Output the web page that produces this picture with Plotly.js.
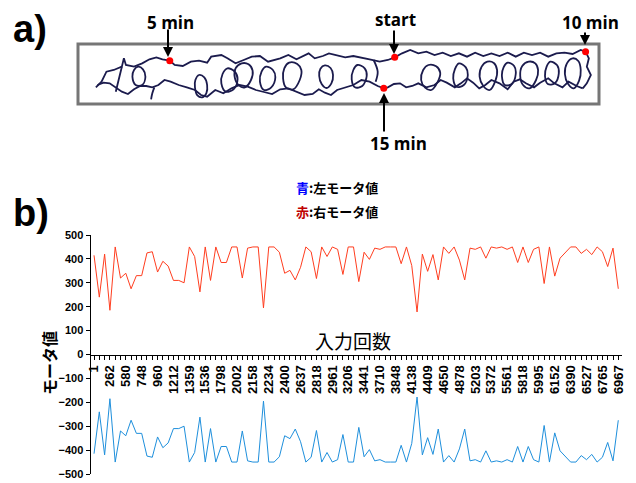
<!DOCTYPE html>
<html><head><meta charset="utf-8">
<script src="https://cdn.plot.ly/plotly-3.0.1.min.js"></script>
<style>html,body{margin:0;padding:0;background:#fff}</style>
</head><body><div id="chart" style="width:636px;height:483px"></div>
<script>
// ---- chart b) data ----
const xLabels = ['1','262','580','748','960','1212','1359','1536','1798','2002','2158','2234','2400','2637','2818','2961','3206','3441','3710','3848','4138','4409','4650','4878','5203','5372','5561','5818','5995','6152','6390','6527','6765','6967'];
const rightMotor = [415,240,420,185,450,320,340,275,330,330,
 425,430,345,390,370,310,310,300,450,410,
 262,450,310,450,385,385,450,450,320,445,
 450,450,195,450,450,428,340,352,312,365,
 450,430,318,450,410,450,440,335,450,450,
 305,428,398,445,440,450,450,450,380,450,
 372,178,420,348,418,312,450,423,450,395,
 312,445,440,450,403,450,445,450,440,450,
 385,450,385,440,450,297,450,328,403,428,
 450,450,423,440,418,450,430,368,445,275];
const leftMotor = [-415,-240,-420,-185,-450,-320,-340,-275,-330,-330,
 -425,-430,-345,-390,-370,-310,-310,-300,-450,-410,
 -262,-450,-310,-450,-385,-385,-450,-450,-320,-445,
 -450,-450,-195,-450,-450,-428,-340,-352,-312,-365,
 -450,-430,-318,-450,-410,-450,-440,-335,-450,-450,
 -305,-428,-398,-445,-440,-450,-450,-450,-380,-450,
 -372,-178,-420,-348,-418,-312,-450,-423,-450,-395,
 -312,-445,-440,-450,-403,-450,-445,-450,-440,-450,
 -385,-450,-385,-440,-450,-297,-450,-328,-403,-428,
 -450,-450,-423,-440,-418,-450,-430,-368,-445,-275];
const legendLines = ['<span style="color:#0000ff">青</span>:左モータ値','<span style="color:#c00000">赤</span>:右モータ値'];
const xTitle = '入力回数';
const yTitle = 'モータ値';

// ---- picture a) data (traced in picture units) ----
const upperX = [236,250,262,280,300,305,310,330,350,368,385,400,418,430,450,470,490,510,520,545,560,580,600,620,640,660,690,710,730,745,760,775,795,810,830,850,870,890,910,935,955,972,990,1010,1030,1050,1070,1090,1110,1130,1150,1170,1190,1210,1230,1250,1270,1290,1310,1330,1350,1370,1390,1410,1430,1442,1450,1445,1455,1445,1435];
const upperY = [262,245,215,210,200,175,195,200,190,178,172,178,182,195,198,185,182,188,170,165,175,190,180,170,168,185,175,165,178,170,160,175,168,160,165,172,168,172,178,185,180,172,160,150,160,155,165,158,168,160,170,158,168,160,168,158,170,158,165,158,170,160,158,162,150,155,175,200,225,250,265];
const lowerX = [1435,1420,1400,1385,1365,1350,1330,1315,1295,1280,1265,1250,1230,1210,1195,1180,1165,1150,1135,1120,1100,1085,1070,1050,1030,1015,1000,985,970,955,945,930,910,890,870,850,830,815,800,785,770,750,730,710,690,670,650,630,610,590,570,550,530,510,495,480,460,440,420,405,390,375,360,345,330,315,300,285,270,255,240];
const lowerY = [265,258,245,262,250,235,248,262,250,238,245,268,250,240,255,265,248,235,250,262,248,240,255,262,250,258,262,250,252,262,265,258,245,240,255,262,270,285,278,268,282,285,275,265,268,282,276,270,260,255,265,280,270,290,285,270,262,255,245,240,255,262,258,258,268,282,275,262,250,248,255];
const loopsX = [490,503,510,508,498,486,480,481,490,null,595,612,622,618,603,588,578,580,595,null,712,732,742,738,722,704,697,700,712,null,800,814,820,816,804,792,786,789,800,null,1055,1074,1084,1078,1062,1046,1037,1042,1055,null,1200,1216,1224,1220,1206,1190,1181,1186,1200,null,1302,1318,1325,1320,1304,1288,1281,1286,1302,null,1410,1424,1430,1426,1413,1399,1391,1396,1410,null,560,578,585,575,556,545,548,560,null,655,672,678,668,650,640,644,655,null,880,898,903,892,874,866,870,880,null,1130,1147,1152,1142,1124,1116,1120,1130,null,1250,1266,1270,1260,1243,1236,1240,1250,null,1355,1372,1376,1366,1349,1342,1346,1355,null,300,292,285,null,380,375,372,null,920,930,925,null,340,352,358,350,334,326,330,340];
const loopsY = [225,232,255,280,292,286,262,240,225,null,190,193,212,240,262,256,232,205,190,null,188,192,210,240,268,262,235,205,188,null,196,204,225,250,264,252,228,206,196,null,195,199,218,245,270,262,240,210,195,null,185,189,210,242,270,258,230,200,185,null,185,190,210,240,265,255,228,198,185,null,175,183,210,242,265,252,222,190,175,null,205,215,238,268,275,250,222,205,null,200,210,232,262,270,245,215,200,null,195,205,228,258,262,238,210,195,null,190,202,225,255,260,235,208,190,null,188,198,222,252,255,230,202,188,null,185,196,220,250,252,228,200,185,null,200,240,275,null,262,280,298,null,180,215,245,null,200,208,230,255,255,230,210,200];
const eventX = [418,972,1442,945];
const eventY = [182,172,155,265];
const eventLabels = ['5 min','start','10 min','15 min'];

const W=636,H=483;
const px = x=>x/W, py = y=>1-y/H;
const yDom=[py(474), py(235)];
const tickvals = xLabels.map((_,i)=>i*3);
const idx = rightMotor.map((_,i)=>i);
const navy = '#1b1b4d';

const traces = [
 {x:idx, y:rightMotor, type:'scatter', mode:'lines', line:{color:'#ff3d1f', width:1}, xaxis:'x', yaxis:'y', hoverinfo:'skip'},
 {x:idx, y:leftMotor, type:'scatter', mode:'lines', line:{color:'#1e8fdc', width:1}, xaxis:'x', yaxis:'y', hoverinfo:'skip'},
 {x:upperX, y:upperY, type:'scatter', mode:'lines', line:{color:navy, width:1.8}, xaxis:'x2', yaxis:'y2'},
 {x:lowerX, y:lowerY, type:'scatter', mode:'lines', line:{color:navy, width:1.8}, xaxis:'x2', yaxis:'y2'},
 {x:loopsX, y:loopsY, type:'scatter', mode:'lines', connectgaps:false, line:{color:navy, width:1.8, shape:'spline', smoothing:1}, xaxis:'x2', yaxis:'y2'},
 {x:eventX, y:eventY, type:'scatter', mode:'markers', marker:{color:'#ff0000', size:7}, xaxis:'x2', yaxis:'y2'}
];

const bold = (size, fam)=>({family: fam||'Liberation Sans, Arial, sans-serif', size:size, color:'#000', weight:'bold'});
const evText = [[170,22],[395,19],[590,22],[398,143]];
const arrows = [[168,57,168,28],[394,54,394,29],[585,45,585,31],[384,93,384,133]];
const A = (x,y,text,font,extra)=>Object.assign({xref:'paper',yref:'paper',x:px(x),y:py(y),xanchor:'center',yanchor:'middle',text:text,showarrow:false,font:font},extra||{});
const annotations = [
 A(30,29,'a)',bold(38)),
 A(31,213,'b)',bold(38)),
 A(294,188,legendLines[0],bold(13,'Noto Sans CJK JP'),{xanchor:'left'}),
 A(294,211,legendLines[1],bold(13,'Noto Sans CJK JP'),{xanchor:'left'}),
 A(353,340,xTitle,{family:'Noto Sans CJK JP',size:19,color:'#000'}),
 A(49,363,yTitle,bold(16,'Noto Sans CJK JP'),{textangle:-90})
];
eventLabels.forEach((t,i)=>{
 annotations.push(A(evText[i][0],evText[i][1],t,bold(17,'Open Sans, sans-serif')));
 const a=arrows[i];
 annotations.push({xref:'paper',yref:'paper',x:px(a[0]),y:py(a[1]),ax:a[2]-a[0],ay:a[3]-a[1],text:'',showarrow:true,arrowhead:2,arrowsize:1,arrowwidth:2,arrowcolor:'#000'});
});

const layout = {
 width:W, height:H, margin:{l:0,r:0,t:0,b:0},
 paper_bgcolor:'#ffffff', plot_bgcolor:'rgba(0,0,0,0)', showlegend:false,
 xaxis:{domain:[px(91),px(622)], range:[-0.57,99.7], anchor:'free', position:(yDom[0]+yDom[1])/2,
  tickmode:'array', tickvals:tickvals, ticktext:xLabels, tickangle:-90,
  ticks:'outside', ticklen:4, tickwidth:1, tickcolor:'#000',
  minor:{tick0:0, dtick:1, ticks:'outside', ticklen:4, tickwidth:1, tickcolor:'#000', showgrid:false},
  showline:true, linecolor:'#000', linewidth:1.5, showgrid:false, zeroline:false, tickfont:bold(13)},
 yaxis:{domain:yDom, range:[-500,500], tick0:0, dtick:100, ticks:'outside', ticklen:4, tickcolor:'#000',
  showline:true, linecolor:'#000', linewidth:1.5, showgrid:false, zeroline:false, tickfont:bold(11)},
 xaxis2:{domain:[px(78),px(599)], range:[192,1475], anchor:'y2', visible:false},
 yaxis2:{domain:[py(104),py(44)], range:[312,132], anchor:'x2', visible:false},
 shapes:[{type:'rect', xref:'paper', yref:'paper', x0:px(78), x1:px(599), y0:py(104), y1:py(44), line:{color:'#767676', width:3}}],
 annotations:annotations
};
Plotly.newPlot('chart', traces, layout, {staticPlot:true, displayModeBar:false});
</script></body></html>
